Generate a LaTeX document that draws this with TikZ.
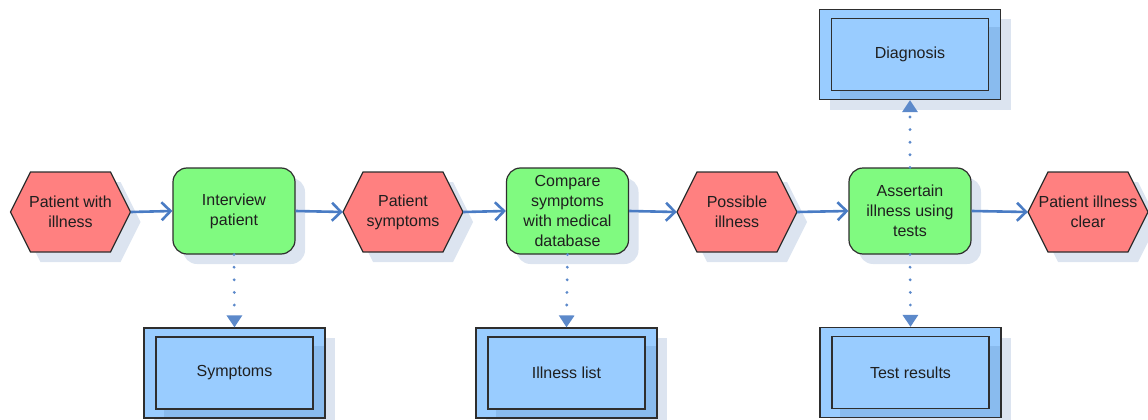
\documentclass[tikz,border=0pt]{standalone}
\usepackage{fontspec}
\setmainfont{Liberation Sans}
\usetikzlibrary{arrows.meta,shadows}
\definecolor{evred}{HTML}{FF8080}
\definecolor{fngreen}{HTML}{80FA80}
\definecolor{docblue}{HTML}{99CCFF}
\definecolor{docdark}{HTML}{89BBEE}
\definecolor{shadowtint}{HTML}{DCE4F0}
\definecolor{flow}{HTML}{4A7CC4}
\definecolor{edgegrey}{HTML}{2E2E2E}

% Event: red hexagon, 120 wide, 80 high; the node spans tip to tip
\newcommand\eventhex[4]{%
  \begin{scope}[shift={(#2,#3)}]
    \fill[shadowtint] (-50,10) -- (-30,-30) -- (50,-30) -- (70,10) -- (50,50) -- (-30,50) -- cycle;
    \filldraw[fill=evred, draw=edgegrey, line width=1.2pt]
      (-60,0) -- (-40,-40) -- (40,-40) -- (60,0) -- (40,40) -- (-40,40) -- cycle;
    \node[lbl, minimum width=120pt, minimum height=80pt, inner sep=0pt] (#1) at (0,0) {#4};
  \end{scope}}

% Information object: blue double-framed box
\newcommand\infobox[4]{%
  \begin{scope}[shift={(#2,#3)}]
    \fill[shadowtint] (-80.5,-35) rectangle (100.5,55);
    \node[draw=edgegrey, fill=docblue, line width=1.2pt, minimum width=181pt,
          minimum height=90pt, inner sep=0pt] (#1) at (0,0) {};
    \fill[docdark] (-70.5,-27) rectangle (89.5,44);
    \node[lbl, draw=edgegrey, fill=docblue, line width=1.2pt, minimum width=157pt,
          minimum height=72pt, inner sep=0pt] (#1-in) at (0,0) {#4};
  \end{scope}}

\begin{document}
\begin{tikzpicture}[x=1pt, y=-1pt,
  lbl/.style={font=\fontsize{16}{20}\selectfont, align=center, text=black!88},
  fn/.style={lbl, rectangle, rounded corners=14pt, fill=fngreen, draw=edgegrey,
    line width=1.2pt, minimum width=122pt, minimum height=86pt, inner sep=0pt,
    drop shadow={shadow xshift=10pt, shadow yshift=-10pt, fill=shadowtint, opacity=1}},
  flowarrow/.style={draw=flow, line width=2.6pt, -{Straight Barb[length=9pt, width=18pt, line width=2.6pt]}},
  infoarrow/.style={draw=flow!90!white, line width=3.2pt, line cap=round,
    dash pattern=on 0pt off 12.6pt, -{Triangle[length=12pt, width=15pt]}}]

\useasboundingbox (0,0) rectangle (1148,420);

% process chain
\eventhex{e1}{70.5}{212}{Patient with\\illness}
\node[fn] (f1) at (234,211) {Interview\\patient};
\eventhex{e2}{403}{212}{Patient\\symptoms}
\node[fn] (f2) at (567.5,211) {Compare\\symptoms\\with medical\\database};
\eventhex{e3}{737}{212}{Possible\\illness}
\node[fn] (f3) at (910,211) {Assertain\\illness using\\tests};
\eventhex{e4}{1088}{212}{Patient illness\\clear};

% information objects
\infobox{d1}{234.5}{373}{Symptoms}
\infobox{d2}{566.5}{373}{Illness list}
\infobox{d3}{910.5}{372.5}{Test results}
\infobox{d4}{910}{54.5}{Diagnosis}

% control flow
\draw[flowarrow] (e1.east) -- (f1.west);
\draw[flowarrow] (f1.east) -- (e2.west);
\draw[flowarrow] (e2.east) -- (f2.west);
\draw[flowarrow] (f2.east) -- (e3.west);
\draw[flowarrow] (e3.east) -- (f3.west);
\draw[flowarrow] (f3.east) -- (e4.west);

% information flow
\draw[infoarrow] (f1.south) -- (d1.north);
\draw[infoarrow] (f2.south) -- (d2.north);
\draw[infoarrow] (f3.south) -- (d3.north);
\draw[infoarrow] (f3.north) -- (d4.south);
\end{tikzpicture}
\end{document}
